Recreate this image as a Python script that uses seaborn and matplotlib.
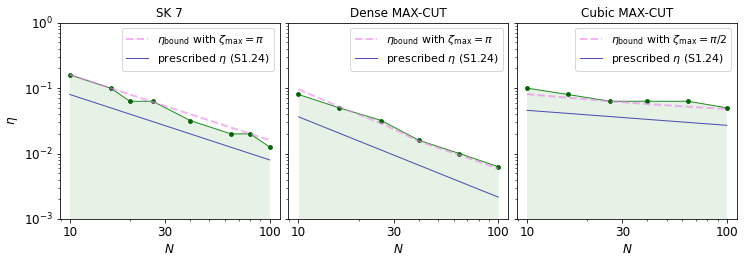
import numpy as np
import matplotlib
matplotlib.use("Agg")
import matplotlib.pyplot as plt
import matplotlib.ticker as mticker
import seaborn as sns

# --- data ---
titles = ["SK 7", "Dense MAX-CUT", "Cubic MAX-CUT"]
zeta_labels = [r"$\pi$", r"$\pi$", r"$\pi/2$"]

n_sk = [10, 16, 20, 26, 40, 64, 80, 100]
eta_sk = [0.16, 0.1, 0.063, 0.063, 0.032, 0.02, 0.02, 0.0126]
bound_sk = [0.16, 0.1, 0.08, 0.0615, 0.04, 0.025, 0.02, 0.016]
presc_sk = [0.08, 0.05, 0.04, 0.0308, 0.02, 0.0125, 0.01, 0.008]

n_dense = [10, 16, 26, 40, 64, 100]
eta_dense = [0.08, 0.05, 0.032, 0.016, 0.01, 0.0063]
bound_dense = [0.096, 0.052, 0.029, 0.0155, 0.0095, 0.0059]
presc_dense = [0.0365, 0.0205, 0.0113, 0.00665, 0.00373, 0.00216]

n_cubic = [10, 16, 26, 40, 64, 100]
eta_cubic = [0.1, 0.08, 0.063, 0.063, 0.063, 0.05]
bound_cubic = [0.081, 0.0715, 0.063, 0.0572, 0.052, 0.048]
presc_cubic = [0.0458, 0.0411, 0.0368, 0.0333, 0.0299, 0.027]

panels = [
    (n_sk, eta_sk, bound_sk, presc_sk),
    (n_dense, eta_dense, bound_dense, presc_dense),
    (n_cubic, eta_cubic, bound_cubic, presc_cubic),
]

plt.rcParams["font.size"] = 12

fig, axes = plt.subplots(1, 3, figsize=(748 / 72, 261 / 72), dpi=72, sharey=True)
fig.subplots_adjust(left=0.080, right=0.985, top=0.913, bottom=0.161, wspace=0.04)

for ax, title, zeta, (n, eta, bound, presc) in zip(axes, titles, zeta_labels, panels):
    ax.fill_between(n, eta, 1e-5, color="green", alpha=0.1, lw=0)
    sns.lineplot(x=n, y=eta, ax=ax, color="forestgreen", lw=1, marker="o",
                 markersize=4, markerfacecolor="darkgreen", markeredgecolor="darkgreen")
    sns.lineplot(x=n, y=bound, ax=ax, color="violet", alpha=0.6, lw=2,
                 linestyle="--", label=r"$\eta_{\rm bound}$ with $\zeta_{\max} = $" + zeta)
    sns.lineplot(x=n, y=presc, ax=ax, color="#4c4cb0", lw=1,
                 label=r"prescribed $\eta$ (S1.24)")
    ax.set_xscale("log")
    ax.set_yscale("log")
    ax.set_ylim(1e-3, 1)
    ax.set_xticks([10, 30, 100])
    ax.xaxis.set_major_formatter(mticker.ScalarFormatter())
    ax.xaxis.set_minor_formatter(mticker.NullFormatter())
    ax.set_xlabel(r"$N$")
    ax.set_title(title, fontsize=12)
    ax.legend(loc="upper right", fontsize=11)

axes[0].set_ylabel(r"$\eta$")

plt.savefig("out.png", dpi=72)
plt.close()
